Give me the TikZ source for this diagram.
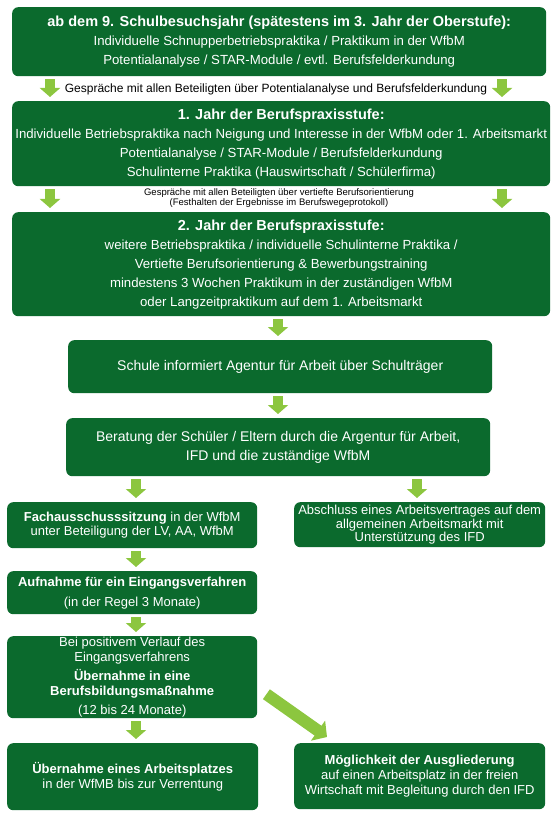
\documentclass[tikz,border=0pt]{standalone}
\usepackage{fontspec}
\setmainfont{Liberation Sans}
\usetikzlibrary{arrows.meta}
\definecolor{boxgreen}{HTML}{0B6A2D}
\definecolor{arrowgreen}{HTML}{8CC63F}
\newcommand{\boxfont}[2]{\fontsize{#1}{#2}\selectfont}
\newcommand{\stagetitle}[1]{{\fontsize{14.5}{19}\selectfont\bfseries #1}}
\tikzset{
  stage/.style={fill=boxgreen, rounded corners=6pt, text=white, align=center, inner sep=0pt, anchor=north west},
  flow/.style={draw=arrowgreen, line width=10pt, -{Triangle[width=20pt,length=9pt]}, shorten <=3pt, shorten >=4pt},
}
\begin{document}
\begin{tikzpicture}[x=1pt,y=-1pt]
  \useasboundingbox (0,0) rectangle (556,818);
  % stages of the school years
  \node[stage, minimum width=534pt, minimum height=69pt, font=\boxfont{13.2}{19}] (jahr9) at (12,7)
    {\stagetitle{ab dem 9. Schulbesuchsjahr (spätestens im 3. Jahr der Oberstufe):}\\
     Individuelle Schnupperbetriebspraktika / Praktikum in der WfbM\\
     Potentialanalyse / STAR-Module / evtl. Berufsfelderkundung};
  \node[stage, minimum width=538pt, minimum height=85pt, font=\boxfont{13.2}{19}] (bps1) at (12,101)
    {\stagetitle{1. Jahr der Berufspraxisstufe:}\\
     Individuelle Betriebspraktika nach Neigung und Interesse in der WfbM oder 1. Arbeitsmarkt\\
     Potentialanalyse / STAR-Module / Berufsfelderkundung\\
     Schulinterne Praktika (Hauswirtschaft / Schülerfirma)};
  \node[stage, minimum width=538pt, minimum height=104pt, font=\boxfont{13.2}{19}] (bps2) at (12,212)
    {\stagetitle{2. Jahr der Berufspraxisstufe:}\\
     weitere Betriebspraktika / individuelle Schulinterne Praktika /\\
     Vertiefte Berufsorientierung \& Bewerbungstraining\\
     mindestens 3 Wochen Praktikum in der zuständigen WfbM\\
     oder Langzeitpraktikum auf dem 1. Arbeitsmarkt};
  \node[stage, minimum width=424pt, minimum height=53pt, font=\boxfont{14}{16}] (info) at (68,340)
    {Schule informiert Agentur für Arbeit über Schulträger};
  \node[stage, minimum width=424pt, minimum height=58pt, font=\boxfont{14}{19}] (beratung) at (66,418)
    {Beratung der Schüler / Eltern durch die Argentur für Arbeit,\\
     IFD und die zuständige WfbM};
  % left and right branch
  \node[stage, minimum width=250pt, minimum height=46pt, font=\boxfont{13}{13.5}] (fachaus) at (7,502)
    {\textbf{Fachausschusssitzung} in der WfbM\\
     unter Beteiligung der LV, AA, WfbM};
  \node[stage, minimum width=251pt, minimum height=45pt, font=\boxfont{13}{13.5}] (vertrag) at (294,502)
    {Abschluss eines Arbeitsvertrages auf dem\\
     allgemeinen Arbeitsmarkt mit\\
     Unterstützung des IFD};
  \node[stage, minimum width=250pt, minimum height=43pt, font=\boxfont{13}{20}] (eingang) at (7,571)
    {\textbf{Aufnahme für ein Eingangsverfahren}\\
     (in der Regel 3 Monate)};
  \node[stage, minimum width=250pt, minimum height=82pt, font=\boxfont{13}{14.5}] (berufsb) at (7,636)
    {Bei positivem Verlauf des\\
     Eingangsverfahrens\\[5pt]
     \textbf{Übernahme in eine}\\
     \textbf{Berufsbildungsmaßnahme}\\[5pt]
     (12 bis 24 Monate)};
  \node[stage, minimum width=251pt, minimum height=67pt, font=\boxfont{13}{15.5}] (arbplatz) at (7,743)
    {\textbf{Übernahme eines Arbeitsplatzes}\\
     in der WfMB bis zur Verrentung};
  \node[stage, minimum width=251pt, minimum height=66pt, font=\boxfont{13}{15}] (ausgl) at (294,743)
    {\textbf{Möglichkeit der Ausgliederung}\\
     auf einen Arbeitsplatz in der freien\\
     Wirtschaft mit Begleitung durch den IFD};
  % talks between the stages
  \node[font=\boxfont{12}{13}] (talk1) at (276,89)
    {Gespräche mit allen Beteiligten über Potentialanalyse und Berufsfelderkundung};
  \node[font=\boxfont{9.5}{10.5}, align=center] (talk2) at (279,198)
    {Gespräche mit allen Beteiligten über vertiefte Berufsorientierung\\
     (Festhalten der Ergebnisse im Berufswegeprotokoll)};
  % arrows
  \coordinate (xl) at (50,0);
  \coordinate (xr) at (502,0);
  \coordinate (xm) at (278,0);
  \coordinate (xa) at (136,0);
  \coordinate (xb) at (417,0);
  \draw[flow] (jahr9.south -| xl) -- (bps1.north -| xl);
  \draw[flow] (jahr9.south -| xr) -- (bps1.north -| xr);
  \draw[flow] (bps1.south -| xl) -- (bps2.north -| xl);
  \draw[flow] (bps1.south -| xr) -- (bps2.north -| xr);
  \draw[flow] (bps2.south -| xm) -- (info.north -| xm);
  \draw[flow] (info.south -| xm) -- (beratung.north -| xm);
  \draw[flow] (beratung.south -| xa) -- (fachaus.north -| xa);
  \draw[flow] (beratung.south -| xb) -- (vertrag.north -| xb);
  \draw[flow] (fachaus.south -| xa) -- (eingang.north -| xa);
  \draw[flow] (eingang.south -| xa) -- (berufsb.north -| xa);
  \draw[flow] (berufsb.south -| xa) -- (arbplatz.north -| xa);
  \draw[flow, line width=12pt, -{Triangle[width=24pt,length=11pt]}, shorten <=0pt, shorten >=0pt]
    ([xshift=9pt,yshift=-17pt]berufsb.east) -- ([xshift=33pt,yshift=6pt]ausgl.north west);
\end{tikzpicture}
\end{document}
